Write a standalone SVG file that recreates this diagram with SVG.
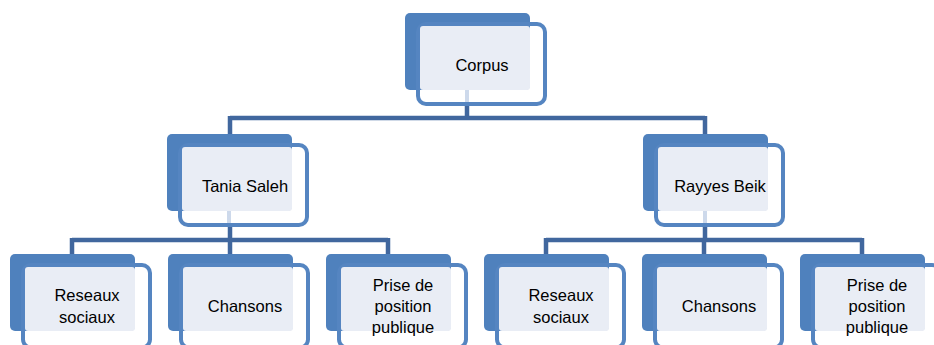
<svg xmlns="http://www.w3.org/2000/svg" xmlns:xlink="http://www.w3.org/1999/xlink" width="934" height="345" viewBox="0 0 934 345">
<style>
.back{fill:#4f81bd}
.frame{fill:none;stroke:#5585c1;stroke-width:4}
.face{fill:#e9edf5}
.stub{stroke:#cdd9eb;stroke-width:4}
.conn{fill:none;stroke:#41679e;stroke-width:4.5}
text{font-family:"Liberation Sans",Arial,sans-serif;font-size:16.5px;fill:#000;text-anchor:middle}
</style>
<defs>
<g id="leaf">
<rect class="back" x="0" y="0" width="125" height="77" rx="5"/>
<rect class="frame" x="13" y="11" width="127" height="82.5" rx="8"/>
<rect class="face" x="15" y="13" width="110" height="64" rx="3"/>
</g>
<g id="card">
<rect class="back" x="0" y="0" width="125" height="77" rx="5"/>
<line class="stub" x1="62" y1="77" x2="62" y2="91"/>
<rect class="frame" x="13" y="11" width="127" height="80" rx="8"/>
<rect class="face" x="15" y="13" width="110" height="64" rx="3"/>
</g>
</defs>
<rect width="934" height="345" fill="#fff"/>
<g id="connectors">
<path class="conn" d="M467,104V118M230,118H705M230,116V134M705,116V134"/>
<path class="conn" d="M230,225V240M72,240H388M72,238V254M230,238V254M388,238V254"/>
<path class="conn" d="M705,225V240M546,240H862M546,238V254M704,238V254M862,238V254"/>
</g>
<g id="corpus">
<use xlink:href="#card" x="405" y="13"/>
<text x="482" y="71">Corpus</text>
</g>
<g id="tania">
<use xlink:href="#card" x="167" y="134"/>
<text x="245" y="192">Tania Saleh</text>
</g>
<g id="rayyes">
<use xlink:href="#card" x="643" y="134"/>
<text x="720" y="192">Rayyes Beik</text>
</g>
<g id="t-reseaux">
<use xlink:href="#leaf" x="10" y="254"/>
<text x="87" y="301">Reseaux</text>
<text x="87" y="323">sociaux</text>
</g>
<g id="t-chansons">
<use xlink:href="#leaf" x="168" y="254"/>
<text x="245" y="312">Chansons</text>
</g>
<g id="t-prise">
<use xlink:href="#leaf" x="326" y="254"/>
<text x="403" y="291">Prise de</text>
<text x="403" y="312">position</text>
<text x="403" y="333">publique</text>
</g>
<g id="r-reseaux">
<use xlink:href="#leaf" x="484" y="254"/>
<text x="561" y="301">Reseaux</text>
<text x="561" y="323">sociaux</text>
</g>
<g id="r-chansons">
<use xlink:href="#leaf" x="642" y="254"/>
<text x="719" y="312">Chansons</text>
</g>
<g id="r-prise">
<use xlink:href="#leaf" x="800" y="254"/>
<text x="877" y="291">Prise de</text>
<text x="877" y="312">position</text>
<text x="877" y="333">publique</text>
</g>
</svg>
